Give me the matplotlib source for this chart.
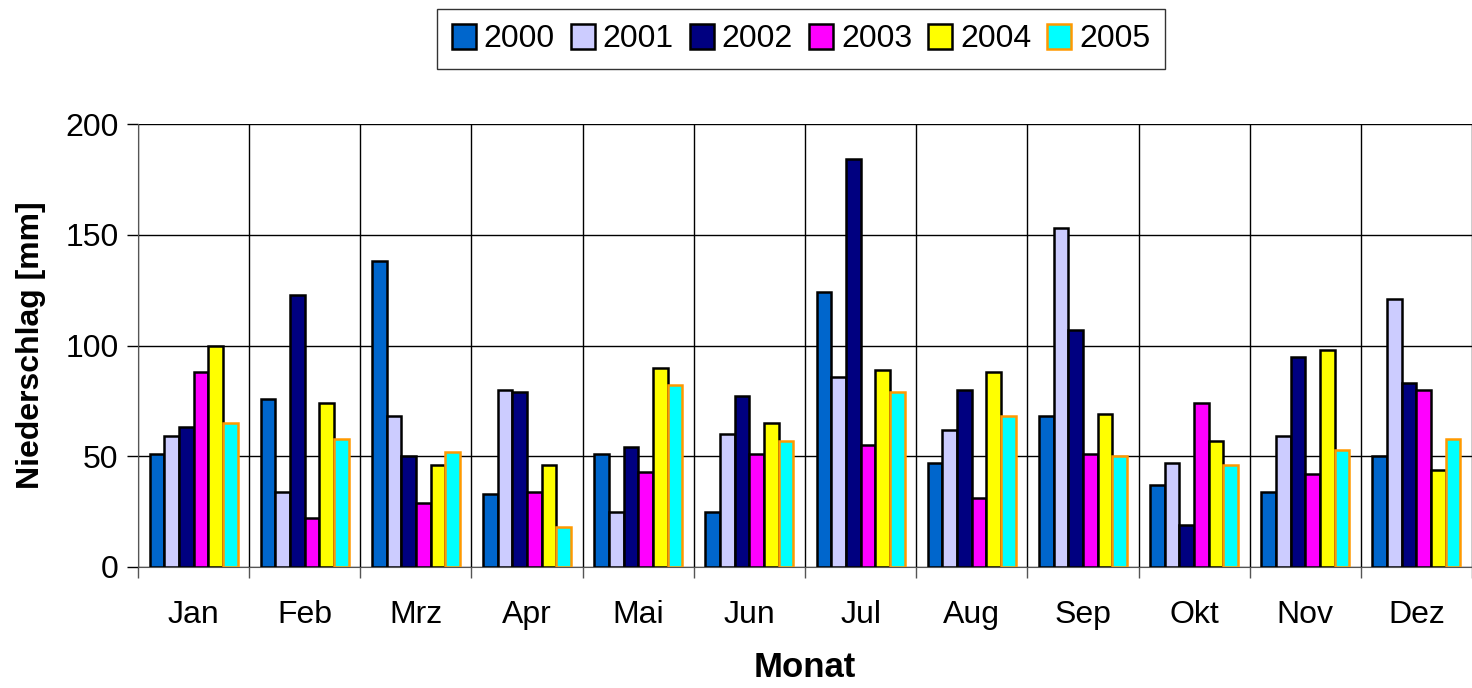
import numpy as np
import matplotlib
matplotlib.use('Agg')
import matplotlib.pyplot as plt
from matplotlib.ticker import FixedLocator, NullFormatter

####################################################################################

FIGURE_XSIZE = 14.72
FIGURE_YSIZE = 6.88
DPI = 100

months = ['Jan', 'Feb', 'Mrz', 'Apr', 'Mai', 'Jun', 'Jul', 'Aug', 'Sep', 'Okt', 'Nov', 'Dez']
years = ['2000', '2001', '2002', '2003', '2004', '2005']

rain_2000 = [51, 76, 138, 33, 51, 25, 124, 47, 68, 37, 34, 50]
rain_2001 = [59, 34, 68, 80, 25, 60, 86, 62, 153, 47, 59, 121]
rain_2002 = [63, 123, 50, 79, 54, 77, 184, 80, 107, 19, 95, 83]
rain_2003 = [88, 22, 29, 34, 43, 51, 55, 31, 51, 74, 42, 80]
rain_2004 = [100, 74, 46, 46, 90, 65, 89, 88, 69, 57, 98, 44]
rain_2005 = [65, 58, 52, 18, 82, 57, 79, 68, 50, 46, 53, 58]

series = [rain_2000, rain_2001, rain_2002, rain_2003, rain_2004, rain_2005]

FILL_COLORS = ['#0066CC', '#CCCCFF', '#000080', '#FF00FF', '#FFFF00', '#00FFFF']
EDGE_COLORS = ['black', 'black', 'black', 'black', 'black', '#FF9900']

LABEL_SIZE = 23

####################################################################################

plt.rcParams['font.family'] = ['Liberation Sans', 'DejaVu Sans']

figure = plt.figure(figsize=(FIGURE_XSIZE, FIGURE_YSIZE), dpi=DPI)
axes = figure.add_axes([138 / 1472, 1 - 567 / 688, (1472 - 138) / 1472, (567 - 124) / 688])

x = np.arange(len(months))
bar_width = 0.132
n = len(series)

for i, values in enumerate(series):
    offset = (i - (n - 1) / 2) * bar_width
    axes.bar(x + offset, values, width=bar_width, color=FILL_COLORS[i],
             edgecolor=EDGE_COLORS[i], linewidth=1.8, label=years[i], zorder=3)

axes.set_xlim(-0.5, len(months) - 0.5)
axes.set_ylim(0, 200)
axes.set_yticks([0, 50, 100, 150, 200])

# category labels at centres, grid and ticks at the boundaries
axes.set_xticks(x)
axes.set_xticklabels(months)
axes.tick_params(axis='x', which='major', length=0, pad=24, labelsize=LABEL_SIZE)
axes.xaxis.set_minor_locator(FixedLocator(np.arange(-0.5, len(months), 1.0)))
axes.xaxis.set_minor_formatter(NullFormatter())
axes.tick_params(axis='x', which='minor', length=8, width=1, color='#555555')
axes.tick_params(axis='y', length=8, width=1, labelsize=LABEL_SIZE, pad=6)

axes.grid(which='minor', axis='x', color='black', linewidth=1, zorder=0)
axes.grid(which='major', axis='y', color='black', linewidth=1, zorder=0)

for side in ['top', 'right']:
    axes.spines[side].set_visible(False)
axes.spines['left'].set_color('#555555')
axes.spines['bottom'].set_color('#555555')

axes.set_xlabel('Monat', fontsize=25, fontweight='bold', labelpad=15)
axes.set_ylabel('Niederschlag [mm]', fontsize=23, fontweight='bold', labelpad=14)

legend = figure.legend(loc='center', bbox_to_anchor=(801 / 1472, 1 - 39 / 688), ncol=6,
                       fontsize=LABEL_SIZE, frameon=True, fancybox=False, edgecolor='black',
                       handlelength=0.75, handleheight=0.85, handletextpad=0.25,
                       columnspacing=0.5, borderpad=0.45)
legend.get_frame().set_linewidth(1)

plt.savefig('out.png', dpi=DPI)
